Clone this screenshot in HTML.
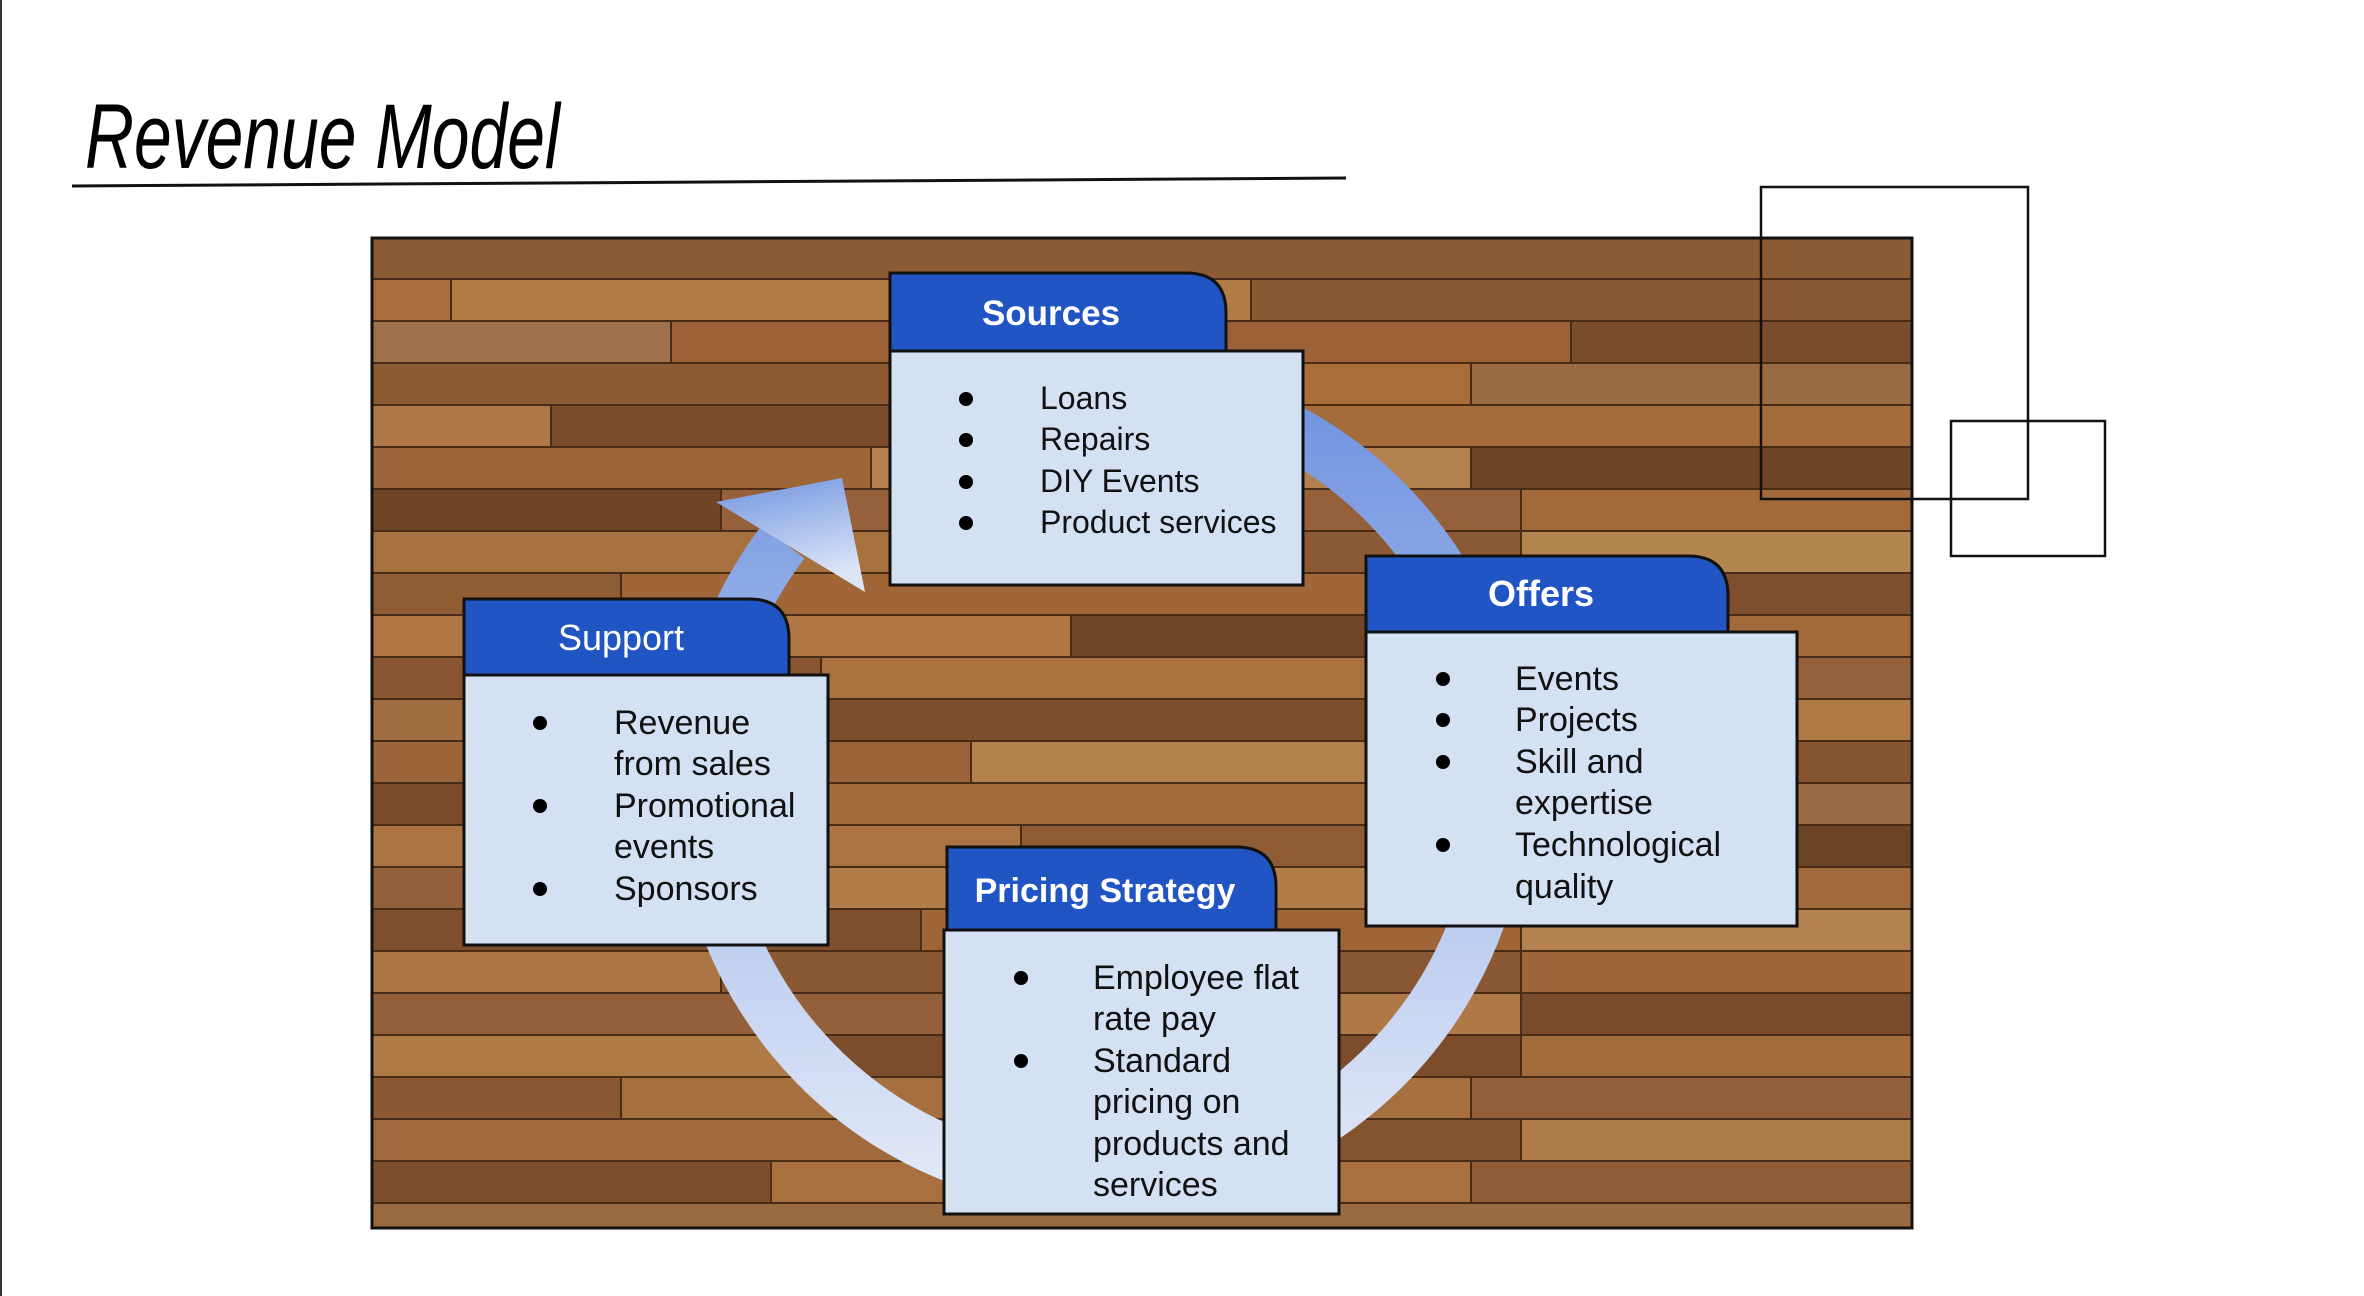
<!DOCTYPE html>
<html><head><meta charset="utf-8"><style>
html,body{margin:0;padding:0;background:#fff;}
svg{display:block}
text{font-family:"Liberation Sans",sans-serif;}
</style></head><body>
<svg width="2364" height="1296" viewBox="0 0 2364 1296" xmlns="http://www.w3.org/2000/svg">
<defs>
<clipPath id="wc"><rect x="371" y="237" width="1542" height="992"/></clipPath>
<linearGradient id="rg" x1="0" y1="0" x2="0" y2="1">
<stop offset="0" stop-color="#6f92e0"/><stop offset="1" stop-color="#e2e9f7"/></linearGradient>
<linearGradient id="ag" x1="0" y1="0" x2="0.3" y2="1">
<stop offset="0" stop-color="#6f92e0"/><stop offset="1" stop-color="#dde6f7"/></linearGradient>
</defs>
<rect width="2364" height="1296" fill="#fff"/>
<rect x="0" y="0" width="2" height="1296" fill="#333"/>
<text x="85" y="168" font-size="92" font-style="italic" textLength="475" lengthAdjust="spacingAndGlyphs" fill="#000">Revenue Model</text>
<line x1="72" y1="186" x2="1346" y2="178" stroke="#111" stroke-width="3"/>

<g clip-path="url(#wc)">
<rect x="371" y="237" width="1542" height="992" fill="#9a6438"/>
<g stroke="#4a2c16" stroke-width="2">
<rect x="371" y="237" width="1542" height="42" fill="#8c5a33"/>
<rect x="371" y="279" width="80" height="42" fill="#a86d3c"/><rect x="451" y="279" width="800" height="42" fill="#b27c45"/><rect x="1251" y="279" width="662" height="42" fill="#8a5833"/>
<rect x="371" y="321" width="300" height="42" fill="#a0704a"/><rect x="671" y="321" width="900" height="42" fill="#9c6136"/><rect x="1571" y="321" width="342" height="42" fill="#7a4c2c"/>
<rect x="371" y="363" width="600" height="42" fill="#8e5a31"/><rect x="971" y="363" width="500" height="42" fill="#a96d3a"/><rect x="1471" y="363" width="442" height="42" fill="#9a6a40"/>
<rect x="371" y="405" width="180" height="42" fill="#b07848"/><rect x="551" y="405" width="700" height="42" fill="#7c4b2a"/><rect x="1251" y="405" width="662" height="42" fill="#a46b3b"/>
<rect x="371" y="447" width="500" height="42" fill="#9d6538"/><rect x="871" y="447" width="600" height="42" fill="#b38150"/><rect x="1471" y="447" width="442" height="42" fill="#6e4427"/>
<rect x="371" y="489" width="350" height="42" fill="#6f4526"/><rect x="721" y="489" width="800" height="42" fill="#96613a"/><rect x="1521" y="489" width="392" height="42" fill="#a26a3b"/>
<rect x="371" y="531" width="650" height="42" fill="#a7713f"/><rect x="1021" y="531" width="500" height="42" fill="#8b5a34"/><rect x="1521" y="531" width="392" height="42" fill="#b58550"/>
<rect x="371" y="573" width="250" height="42" fill="#8f5c33"/><rect x="621" y="573" width="900" height="42" fill="#a06638"/><rect x="1521" y="573" width="392" height="42" fill="#7f4f2d"/>
<rect x="371" y="615" width="700" height="42" fill="#b07745"/><rect x="1071" y="615" width="500" height="42" fill="#6f4628"/><rect x="1571" y="615" width="342" height="42" fill="#a36b3c"/>
<rect x="371" y="657" width="450" height="42" fill="#8a5531"/><rect x="821" y="657" width="700" height="42" fill="#a9723f"/><rect x="1521" y="657" width="392" height="42" fill="#94613a"/>
<rect x="371" y="699" width="300" height="42" fill="#a26d40"/><rect x="671" y="699" width="850" height="42" fill="#7d4d2c"/><rect x="1521" y="699" width="392" height="42" fill="#b07a47"/>
<rect x="371" y="741" width="600" height="42" fill="#9b6438"/><rect x="971" y="741" width="550" height="42" fill="#b4804c"/><rect x="1521" y="741" width="392" height="42" fill="#86552f"/>
<rect x="371" y="783" width="400" height="42" fill="#7a4a2a"/><rect x="771" y="783" width="700" height="42" fill="#a46b3a"/><rect x="1471" y="783" width="442" height="42" fill="#9a6a42"/>
<rect x="371" y="825" width="650" height="42" fill="#ad7443"/><rect x="1021" y="825" width="500" height="42" fill="#8e5b33"/><rect x="1521" y="825" width="392" height="42" fill="#6d4326"/>
<rect x="371" y="867" width="280" height="42" fill="#94603a"/><rect x="651" y="867" width="850" height="42" fill="#b27d49"/><rect x="1501" y="867" width="412" height="42" fill="#a06a3c"/>
<rect x="371" y="909" width="550" height="42" fill="#7f4e2c"/><rect x="921" y="909" width="600" height="42" fill="#9f6536"/><rect x="1521" y="909" width="392" height="42" fill="#b38250"/>
<rect x="371" y="951" width="350" height="42" fill="#aa7443"/><rect x="721" y="951" width="800" height="42" fill="#8a5832"/><rect x="1521" y="951" width="392" height="42" fill="#9d673a"/>
<rect x="371" y="993" width="700" height="42" fill="#94603a"/><rect x="1071" y="993" width="450" height="42" fill="#ae7946"/><rect x="1521" y="993" width="392" height="42" fill="#7a4b2b"/>
<rect x="371" y="1035" width="450" height="42" fill="#b07a47"/><rect x="821" y="1035" width="700" height="42" fill="#7c4c2b"/><rect x="1521" y="1035" width="392" height="42" fill="#a36c3c"/>
<rect x="371" y="1077" width="250" height="42" fill="#8b5832"/><rect x="621" y="1077" width="850" height="42" fill="#a56f3f"/><rect x="1471" y="1077" width="442" height="42" fill="#93603a"/>
<rect x="371" y="1119" width="600" height="42" fill="#a06a3d"/><rect x="971" y="1119" width="550" height="42" fill="#83522e"/><rect x="1521" y="1119" width="392" height="42" fill="#b07c49"/>
<rect x="371" y="1161" width="400" height="42" fill="#7e4e2c"/><rect x="771" y="1161" width="700" height="42" fill="#a8703e"/><rect x="1471" y="1161" width="442" height="42" fill="#8f5c35"/>
<rect x="371" y="1203" width="1542" height="30" fill="#9c6a40"/>
</g>
</g>
<rect x="372" y="238" width="1540" height="990" fill="none" stroke="#111" stroke-width="3"/>

<rect x="1761" y="187" width="267" height="312" fill="none" stroke="#111" stroke-width="2.5"/>
<rect x="1951" y="421" width="154" height="135" fill="none" stroke="#111" stroke-width="2.5"/>

<!-- ring -->
<path d="M 965 408 A 400 400 0 1 1 783 542" fill="none" stroke="url(#rg)" stroke-width="54"/>
<polygon points="716,502 842,478 865,592" fill="url(#ag)"/>

<!-- Sources -->
<path d="M890 351 V273 H1186 Q1226 273 1226 313 V351 Z" fill="#2255c4" stroke="#111" stroke-width="3"/>
<rect x="890" y="351" width="413" height="234" fill="#d3e1f2" stroke="#111" stroke-width="3"/>
<text x="1051" y="325" font-size="35" font-weight="bold" fill="#fff" text-anchor="middle">Sources</text>
<g font-size="32" fill="#111">
<text x="1040" y="409">Loans</text><text x="1040" y="450">Repairs</text><text x="1040" y="492">DIY Events</text><text x="1040" y="533">Product services</text>
</g>
<g fill="#000"><circle cx="966" cy="399" r="7"/><circle cx="966" cy="440" r="7"/><circle cx="966" cy="482" r="7"/><circle cx="966" cy="523" r="7"/></g>

<!-- Offers -->
<path d="M1366 632 V556 H1688 Q1728 556 1728 596 V632 Z" fill="#2255c4" stroke="#111" stroke-width="3"/>
<rect x="1366" y="632" width="431" height="294" fill="#d3e1f2" stroke="#111" stroke-width="3"/>
<text x="1541" y="606" font-size="36" font-weight="bold" fill="#fff" text-anchor="middle">Offers</text>
<g font-size="34" fill="#111">
<text x="1515" y="690">Events</text><text x="1515" y="731">Projects</text><text x="1515" y="773">Skill and</text><text x="1515" y="814">expertise</text><text x="1515" y="856">Technological</text><text x="1515" y="898">quality</text>
</g>
<g fill="#000"><circle cx="1443" cy="679" r="7"/><circle cx="1443" cy="720" r="7"/><circle cx="1443" cy="762" r="7"/><circle cx="1443" cy="845" r="7"/></g>

<!-- Support -->
<path d="M464 675 V599 H749 Q789 599 789 639 V675 Z" fill="#2255c4" stroke="#111" stroke-width="3"/>
<rect x="464" y="675" width="364" height="270" fill="#d3e1f2" stroke="#111" stroke-width="3"/>
<text x="621" y="650" font-size="36" fill="#fff" text-anchor="middle">Support</text>
<g font-size="34" fill="#111">
<text x="614" y="734">Revenue</text><text x="614" y="775">from sales</text><text x="614" y="817">Promotional</text><text x="614" y="858">events</text><text x="614" y="900">Sponsors</text>
</g>
<g fill="#000"><circle cx="540" cy="723" r="7"/><circle cx="540" cy="806" r="7"/><circle cx="540" cy="889" r="7"/></g>

<!-- Pricing -->
<path d="M947 930 V847 H1236 Q1276 847 1276 887 V930 Z" fill="#2255c4" stroke="#111" stroke-width="3"/>
<rect x="944" y="930" width="395" height="284" fill="#d3e1f2" stroke="#111" stroke-width="3"/>
<text x="1105" y="902" font-size="34" font-weight="bold" fill="#fff" text-anchor="middle">Pricing Strategy</text>
<g font-size="34" fill="#111">
<text x="1093" y="989">Employee flat</text><text x="1093" y="1030">rate pay</text><text x="1093" y="1072">Standard</text><text x="1093" y="1113">pricing on</text><text x="1093" y="1155">products and</text><text x="1093" y="1196">services</text>
</g>
<g fill="#000"><circle cx="1021" cy="978" r="7"/><circle cx="1021" cy="1061" r="7"/></g>
</svg>
</body></html>
